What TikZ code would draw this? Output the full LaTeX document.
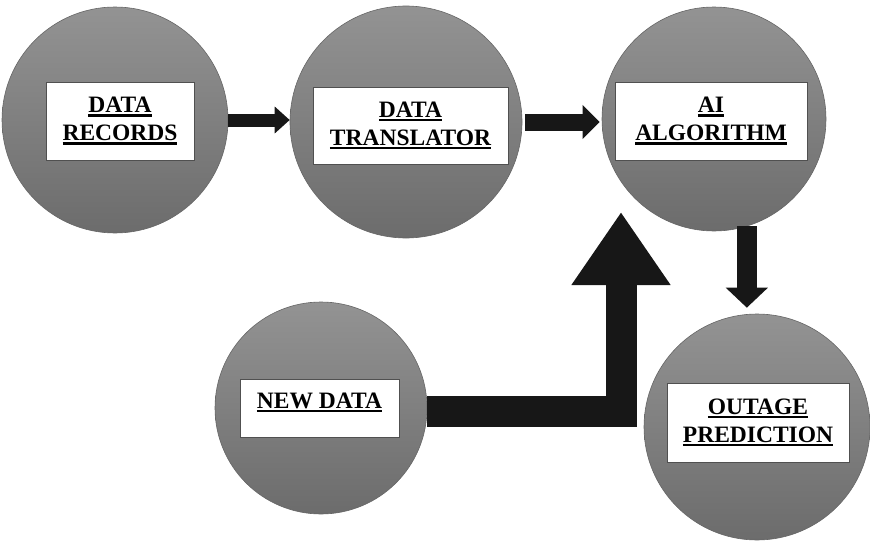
\documentclass[tikz,border=0pt]{standalone}
\usepackage{fontspec}
\setmainfont{Liberation Serif}
\usetikzlibrary{arrows.meta}
\definecolor{ctop}{HTML}{939393}
\definecolor{cbot}{HTML}{6C6C6C}
\definecolor{cline}{HTML}{666666}
\definecolor{boxline}{HTML}{505050}
\definecolor{arr}{HTML}{171717}
\newcommand\ulx[1]{\setbox0\hbox{#1}\rlap{\copy0}\rule[-3.8pt]{\wd0}{2.2pt}}
\begin{document}
\begin{tikzpicture}[x=1pt,y=-1pt,
  bubble/.style={circle, minimum size=#1, inner sep=0pt, top color=ctop, bottom color=cbot, draw=cline, line width=0.6pt},
  box/.style={draw=boxline, fill=white, line width=1pt, inner sep=0pt, align=center,
    font=\fontsize{23.5}{28}\selectfont\bfseries},
  lbl/.style={inner sep=0pt, font=\fontsize{23.5}{28}\selectfont\bfseries},
  flow/.style={draw=arr, line join=miter, line cap=butt}]
\useasboundingbox (0,0) rectangle (870,541);
% circles
\node[bubble=226] (c1) at (115,120) {};
\node[bubble=232] (c2) at (406,122) {};
\node[bubble=224] (c3) at (714,119) {};
\node[bubble=212] (c4) at (321,408) {};
\node[bubble=226] (c5) at (757,427) {};
% boxes
\node[box, minimum width=148, minimum height=78] (b1) at (120,121) {\ulx{DATA}\\\ulx{RECORDS}};
\node[box, minimum width=195, minimum height=77] (b2) at (410.5,125.5) {\ulx{DATA}\\\ulx{TRANSLATOR}};
\node[box, minimum width=192, minimum height=78] (b3) at (711,121) {\ulx{AI}\\\ulx{ALGORITHM}};
\node[box, minimum width=159, minimum height=58] (b4) at (319.5,408) {};
\node[lbl, anchor=base] (t4) at (b4.center) {\ulx{NEW DATA}};
\node[box, minimum width=182, minimum height=79] (b5) at (758,422.5) {\ulx{OUTAGE}\\\ulx{PREDICTION}};
% connectors
\draw[flow, line width=13pt, -{Triangle[width=26pt,length=15pt]}]
  (c1.east) -- (c1.east -| c2.west);
\draw[flow, line width=17pt, -{Triangle[width=33pt,length=17pt]}, shorten <=3pt, shorten >=2pt]
  (c2.east) -- (c2.east -| c3.west);
\draw[flow, line width=20pt, -{Triangle[width=41pt,length=20pt]}, shorten >=6pt]
  (c3.-73) -- (c3.-73 |- c5.north);
\coordinate (tip) at (621,212);
\draw[flow, line width=31pt, -{Triangle[width=94pt,length=73pt]}]
  ([yshift=-3pt]c4.east) -| (tip);
\end{tikzpicture}
\end{document}
